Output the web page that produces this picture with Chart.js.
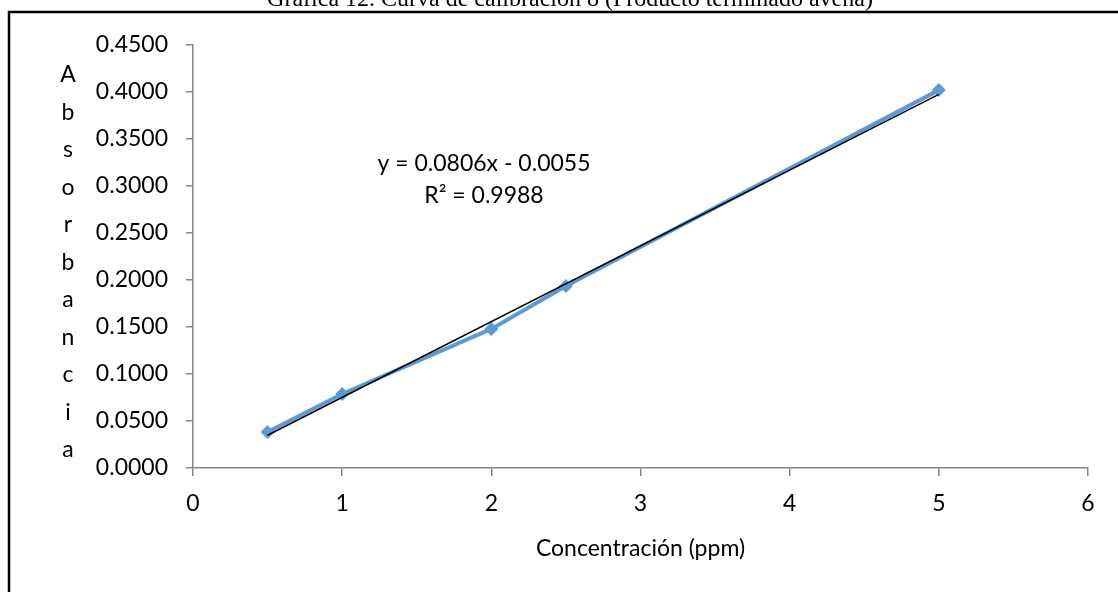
<!DOCTYPE html>
<html>
<head>
    <title>Curva de calibración 8</title>
    <style>
        body {
            margin: 0;
            padding: 0;
            background-color: #ffffff;
            overflow: hidden;
        }
        #grafica {
            display: block;
        }
    </style>
    <script src="https://cdn.jsdelivr.net/npm/chart.js"></script>
</head>
<body>
<canvas id="grafica" width="1118" height="592"></canvas>
<script>
    // Datos
    const concentraciones = [0.5, 1, 2, 2.5, 5];
    const absorbancias = [0.0383, 0.0787, 0.148, 0.1936, 0.402];

    // Línea de tendencia (según la ecuación mostrada)
    const pendiente = 0.0806;
    const intercepto = -0.0055;
    const rangoTendencia = [0.5, 5];

    // Marcas de los ejes
    const ticksX = [0, 1, 2, 3, 4, 5, 6];
    const ticksY = [0, 0.05, 0.1, 0.15, 0.2, 0.25, 0.3, 0.35, 0.4, 0.45];

    const tituloGrafica = 'Gráfica 12. Curva de calibración 8 (Producto terminado avena)';
    const tituloEjeX = 'Concentración (ppm)';
    const tituloEjeY = 'Absorbancia';
    const ecuacion = 'y = 0.0806x - 0.0055';
    const r2 = 'R² = 0.9988';

    const fuente = 'Lato';
    const grisEje = '#868686';

    const puntos = concentraciones.map((x, i) => ({ x: x, y: absorbancias[i] }));
    const tendencia = rangoTendencia.map(x => ({ x: x, y: pendiente * x + intercepto }));

    // Textos extra: marco, título recortado, título vertical del eje Y y ecuación
    const textosExtra = {
        id: 'textosExtra',
        beforeDraw(chart) {
            const ctx = chart.ctx;
            ctx.save();
            ctx.fillStyle = '#ffffff';
            ctx.fillRect(0, 0, chart.width, chart.height);
            ctx.strokeStyle = '#000000';
            ctx.lineWidth = 2.5;
            ctx.strokeRect(9, 12, chart.width + 20, chart.height + 20);
            ctx.restore();
        },
        afterDraw(chart) {
            const ctx = chart.ctx;
            ctx.save();
            ctx.fillStyle = '#000000';
            ctx.textAlign = 'center';

            // título (cortado en el borde superior)
            ctx.font = '24px "Liberation Serif"';
            ctx.textBaseline = 'alphabetic';
            ctx.fillText(tituloGrafica, 570, 6);

            // título del eje Y, una letra por renglón
            ctx.font = '23px ' + fuente;
            ctx.textBaseline = 'middle';
            tituloEjeY.split('').forEach((letra, i) => {
                ctx.fillText(letra, 68, 75 + i * 37.5);
            });

            // ecuación de la tendencia
            ctx.fillText(ecuacion, 484, 164);
            ctx.fillText(r2, 484, 196);
            ctx.restore();
        }
    };

    new Chart(document.getElementById('grafica'), {
        type: 'scatter',
        data: {
            datasets: [
                {
                    label: 'Lineal',
                    data: tendencia,
                    showLine: true,
                    borderColor: '#000000',
                    borderWidth: 1.5,
                    pointRadius: 0
                },
                {
                    label: 'Absorbancia',
                    data: puntos,
                    showLine: true,
                    borderColor: '#5B9BD5',
                    backgroundColor: '#5B9BD5',
                    borderWidth: 4,
                    pointStyle: 'rectRot',
                    pointRadius: 7,
                    pointBorderWidth: 0
                }
            ]
        },
        options: {
            responsive: false,
            animation: false,
            layout: { padding: { left: 0, top: 45, right: 30, bottom: 0 } },
            plugins: {
                legend: { display: false },
                tooltip: { enabled: false }
            },
            scales: {
                x: {
                    type: 'linear',
                    min: 0,
                    max: 6,
                    afterFit: s => { s.height = 124; },
                    afterBuildTicks: s => { s.ticks = ticksX.map(v => ({ value: v })); },
                    border: { color: grisEje, width: 1.5 },
                    grid: { drawOnChartArea: false, color: grisEje, tickLength: 8, lineWidth: 1.5 },
                    ticks: {
                        color: '#000000',
                        font: { family: fuente, size: 23 },
                        padding: 14
                    },
                    title: {
                        display: true,
                        text: tituloEjeX,
                        color: '#000000',
                        font: { family: fuente, size: 23 },
                        padding: { top: 4, bottom: 30 }
                    }
                },
                y: {
                    min: 0,
                    max: 0.45,
                    afterFit: s => { s.width = 193; },
                    afterBuildTicks: s => { s.ticks = ticksY.map(v => ({ value: v })); },
                    border: { color: grisEje, width: 1.5 },
                    grid: { drawOnChartArea: false, color: grisEje, tickLength: 7, lineWidth: 1.5 },
                    ticks: {
                        color: '#000000',
                        font: { family: fuente, size: 23 },
                        padding: 18,
                        callback: v => Number(v).toFixed(4)
                    }
                }
            }
        },
        plugins: [textosExtra]
    });
</script>
</body>
</html>
